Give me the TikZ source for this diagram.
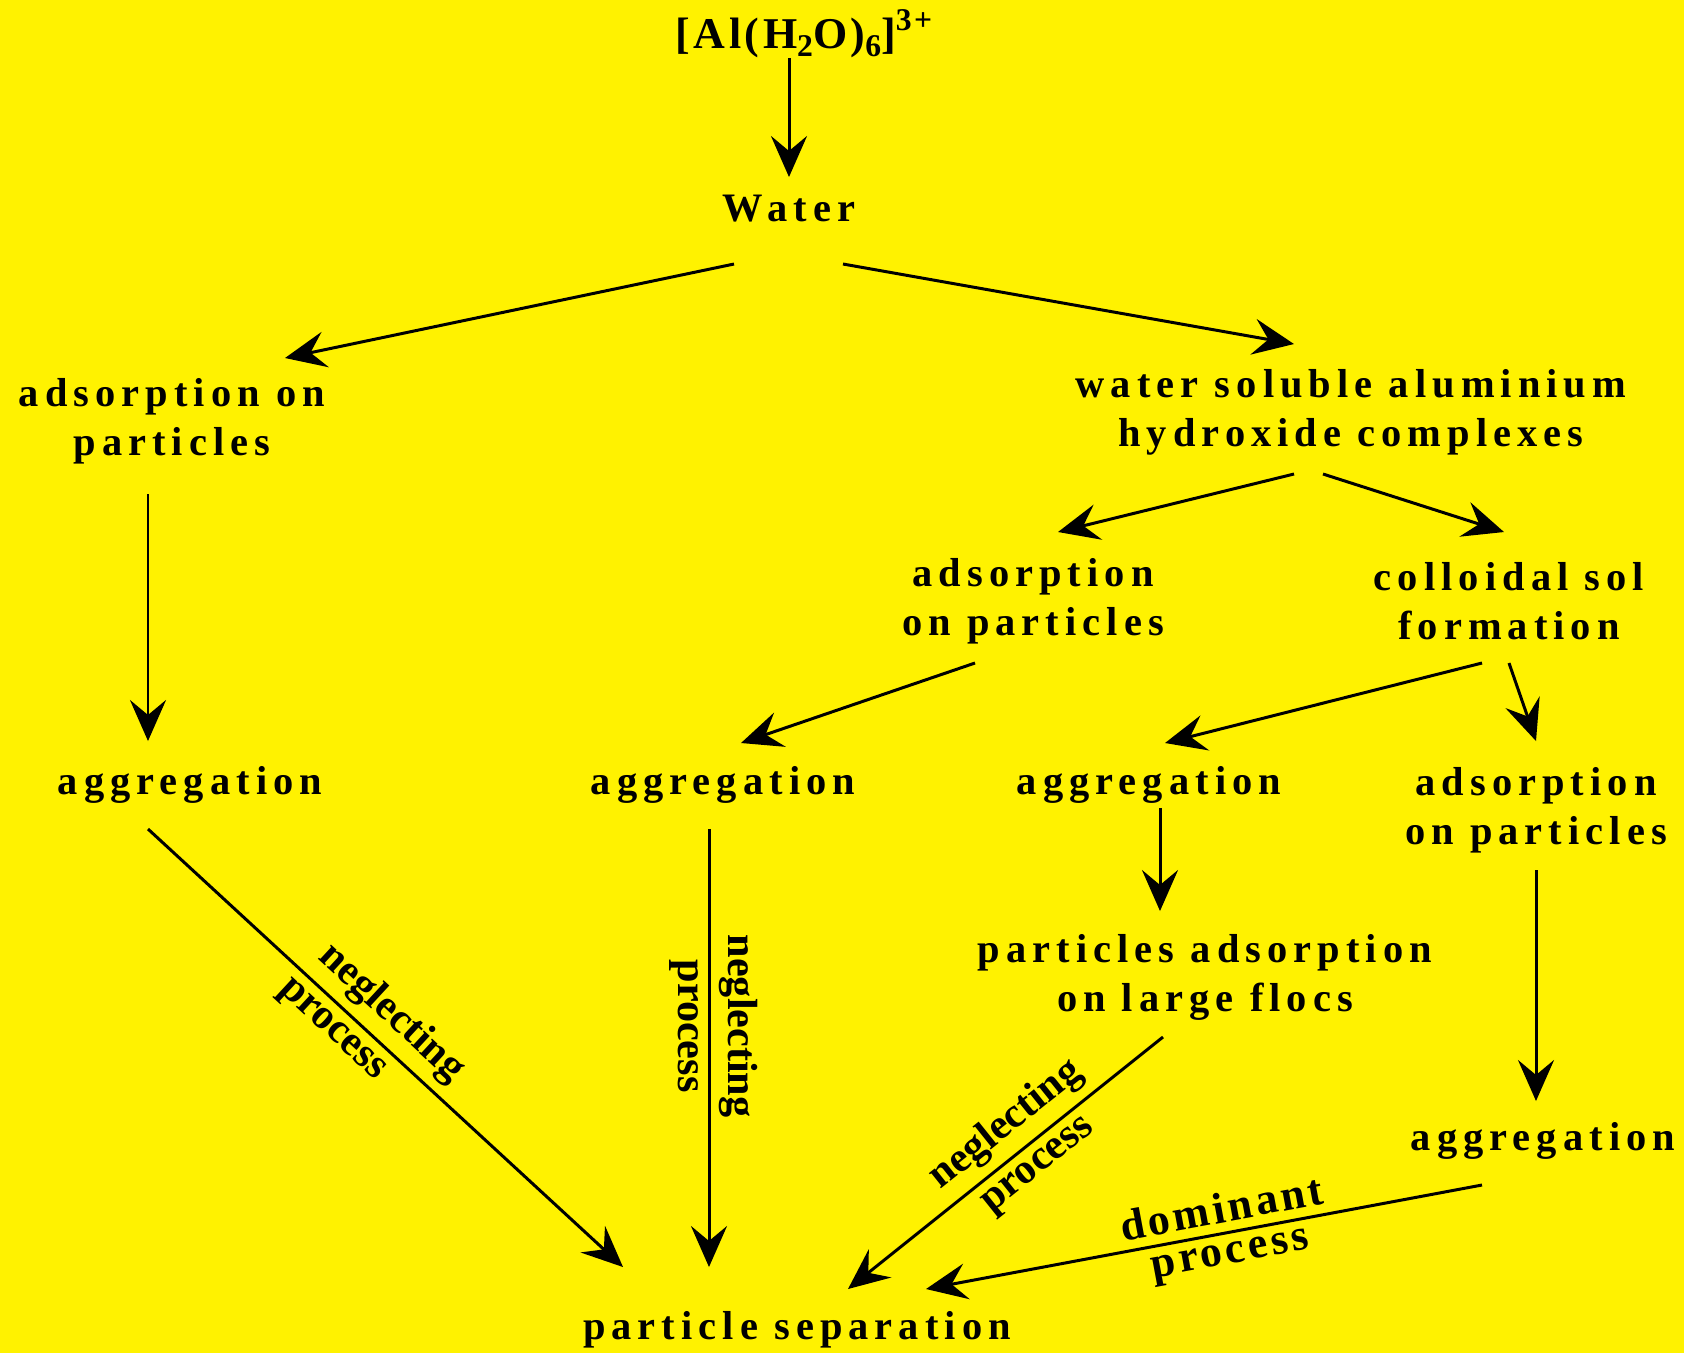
\documentclass[tikz,border=0pt]{standalone}
\usepackage{fontspec}
\setmainfont{Liberation Serif}
\newfontfamily\spacedfont{Liberation Serif}[LetterSpace=15]
\newfontfamily\widefont{Liberation Serif}[LetterSpace=8]
\usetikzlibrary{arrows.meta}

\begin{document}
\begin{tikzpicture}[x=0.01cm, y=-0.01cm,
  stage/.style={font=\spacedfont\bfseries\fontsize{11.5}{13.9}\selectfont, align=center, inner sep=0pt},
  flow/.style={-{Stealth[length=0.41cm, width=0.36cm, inset=0.15cm]}, line width=0.85pt},
  note/.style={font=\bfseries\fontsize{12}{13}\selectfont, sloped, inner sep=2.5pt}]
\fill[yellow] (0,0) rectangle (1684,1353);
\node[font=\widefont\bfseries\fontsize{12.5}{14}\selectfont, inner sep=0pt] (al) at (804,34) {[Al(H\raisebox{-0.4ex}{\small 2}O)\raisebox{-0.4ex}{\small 6}]\raisebox{0.9ex}{\small 3+}};
\node[stage] (water) at (789,209) {Water};
\node[stage] (adsL) at (172,421) {adsorption on\\particles};
\node[stage] (wsa) at (1351,412) {water soluble aluminium\\hydroxide complexes};
\node[stage] (aggL) at (190,785) {aggregation};
\node[stage] (adsM) at (1033,601) {adsorption\\on particles};
\node[stage] (colloid) at (1509,601) {colloidal sol\\formation};
\node[stage] (aggM) at (723,785) {aggregation};
\node[stage] (aggMR) at (1149,785) {aggregation};
\node[stage] (adsR) at (1536,810) {adsorption\\on particles};
\node[stage] (flocs) at (1205,977) {particles adsorption\\on large flocs};
\node[stage] (aggR) at (1543,1141) {aggregation};
\node[stage] (sep) at (797,1330) {particle separation};
\draw[flow] ([shift={(-15,24)}]al.center) -- ([shift={(0,-32)}]water.center);
\draw[flow] ([shift={(-55,55)}]water.center) -- ([shift={(113,-63)}]adsL.center);
\draw[flow] ([shift={(54,55)}]water.center) -- ([shift={(-57,-68)}]wsa.center);
\draw[flow] ([shift={(-24,73)}]adsL.center) -- ([shift={(-42,-44)}]aggL.center);
\draw[flow] ([shift={(-57,62)}]wsa.center) -- ([shift={(25,-69)}]adsM.center);
\draw[flow] ([shift={(-28,62)}]wsa.center) -- ([shift={(-5,-69)}]colloid.center);
\draw[flow] ([shift={(-58,62)}]adsM.center) -- ([shift={(18,-42)}]aggM.center);
\draw[flow] ([shift={(-27,62)}]colloid.center) -- ([shift={(16,-42)}]aggMR.center);
\draw[flow] ([shift={(0,62)}]colloid.center) -- ([shift={(0,-69)}]adsR.center);
\draw[flow] ([shift={(11,23)}]aggMR.center) -- ([shift={(-45,-66)}]flocs.center);
\draw[flow] ([shift={(0,60)}]adsR.center) -- ([shift={(-7,-40)}]aggR.center);
\draw[flow] ([shift={(-42,44)}]aggL.center) -- ([shift={(-174,-63)}]sep.center)
  node[note, pos=0.47, above] {neglecting} node[note, pos=0.42, below] {process};
\draw[flow] ([shift={(-14,44)}]aggM.center) -- ([shift={(-88,-63)}]sep.center)
  node[note, pos=0.45, above] {neglecting} node[note, pos=0.45, below] {process};
\draw[flow] ([shift={(-42,60)}]flocs.center) -- ([shift={(51,-41)}]sep.center)
  node[note, pos=0.44, above] {neglecting} node[note, pos=0.44, below] {process};
\draw[flow] ([shift={(-61,44)}]aggR.center) -- ([shift={(129,-41)}]sep.center)
  node[note, font=\widefont\bfseries\fontsize{12.5}{13}\selectfont, pos=0.46, above] {dominant}
  node[note, font=\widefont\bfseries\fontsize{12.5}{13}\selectfont, pos=0.46, below] {process};
\end{tikzpicture}
\end{document}
